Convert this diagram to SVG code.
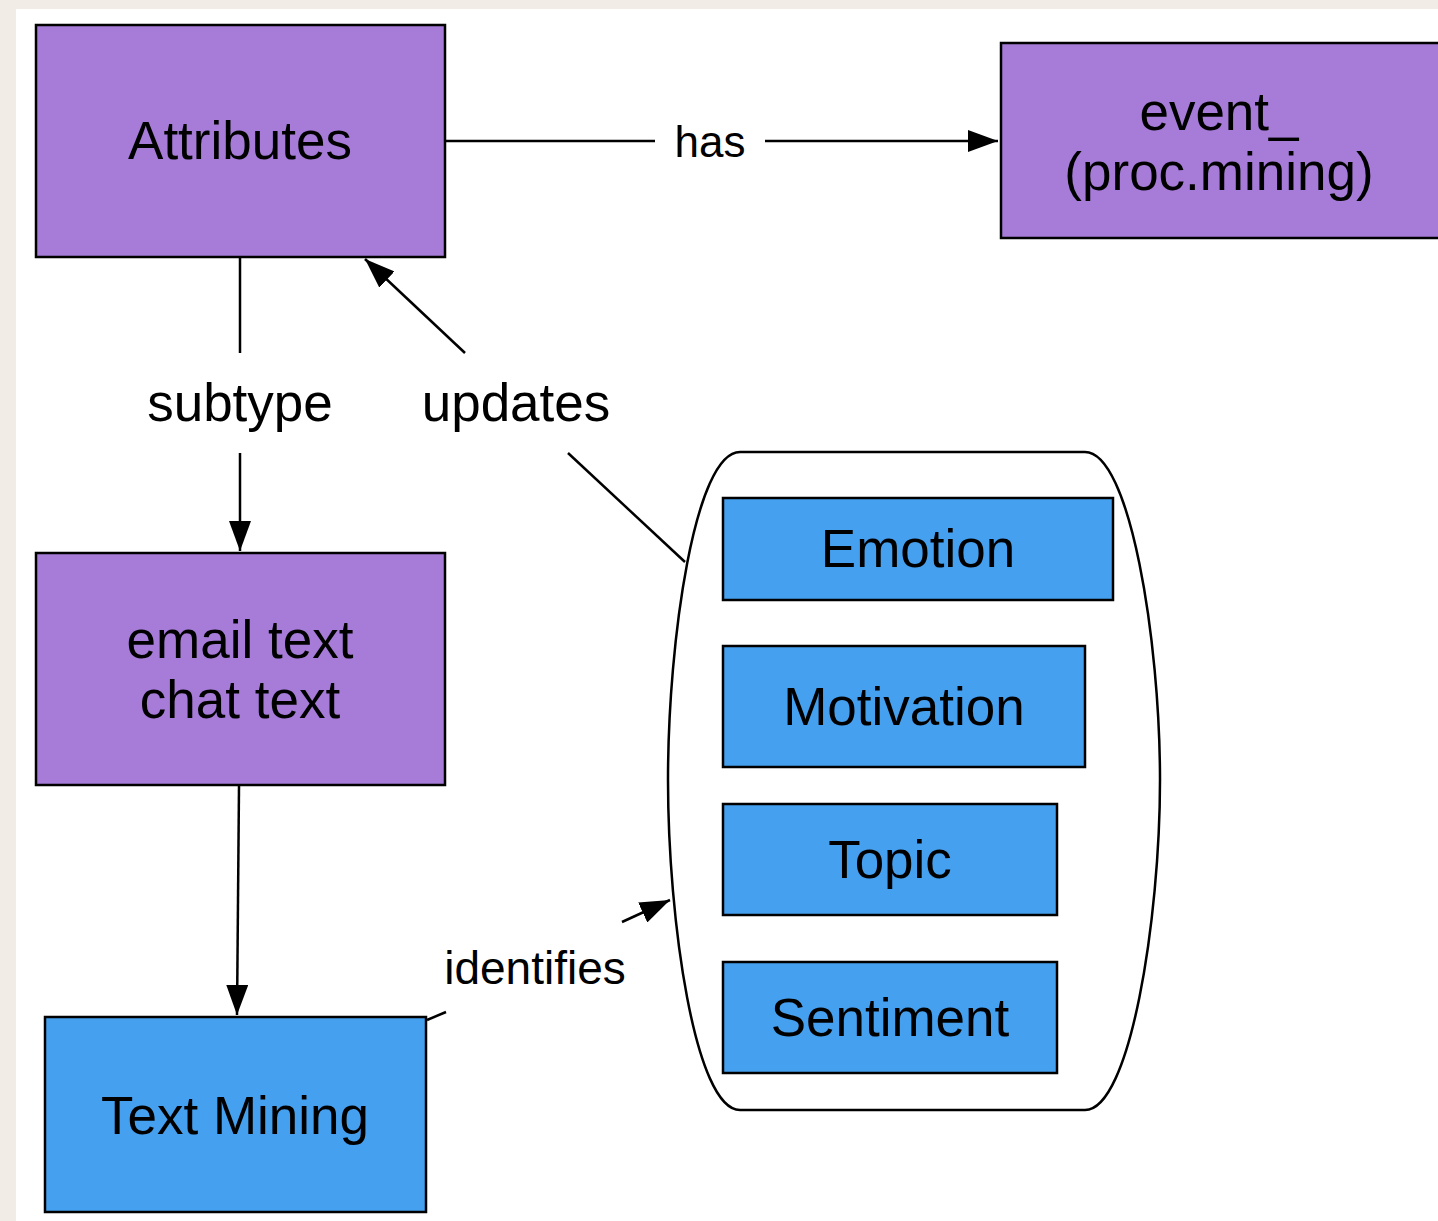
<svg xmlns="http://www.w3.org/2000/svg" width="1438" height="1221" viewBox="0 0 1438 1221">
<style>
.p{fill:#a67cd8;stroke:#000;stroke-width:2.5}
.b{fill:#46a0f0;stroke:#000;stroke-width:2.5}
.t{font-family:"Liberation Sans",Arial,sans-serif;font-size:53px;fill:#000;text-anchor:middle}
.l{font-family:"Liberation Sans",Arial,sans-serif;fill:#000;text-anchor:middle}
.c{fill:none;stroke:#000;stroke-width:2.5}
</style>
<defs>
<marker id="ah" viewBox="0 0 30 22" refX="30" refY="11" markerWidth="30" markerHeight="22" markerUnits="userSpaceOnUse" orient="auto">
<path d="M0,0 L30,11 L0,22 Z" fill="#000"/>
</marker>
</defs>
<rect x="0" y="0" width="1438" height="1221" fill="#f1ede6"/>
<rect x="16" y="9" width="1422" height="1212" fill="#fff"/>
<g id="connectors">
<line class="c" x1="445" y1="141" x2="655" y2="141"/>
<line class="c" x1="765" y1="141" x2="998" y2="141" marker-end="url(#ah)"/>
<line class="c" x1="240" y1="257" x2="240" y2="353"/>
<line class="c" x1="240" y1="453" x2="240" y2="551" marker-end="url(#ah)"/>
<line class="c" x1="685" y1="562" x2="568" y2="453"/>
<line class="c" x1="465" y1="353" x2="365" y2="259" marker-end="url(#ah)"/>
<line class="c" x1="239" y1="786" x2="237" y2="1015" marker-end="url(#ah)"/>
<line class="c" x1="427" y1="1020" x2="446" y2="1012"/>
<line class="c" x1="622" y1="922" x2="670" y2="900" marker-end="url(#ah)"/>
<text class="l" x="710" y="157" font-size="44">has</text>
<text class="l" x="240" y="421" font-size="53">subtype</text>
<text class="l" x="516" y="421" font-size="53">updates</text>
<text class="l" x="535" y="984" font-size="46">identifies</text>
</g>
<g id="attributes"><rect class="p" x="36" y="25" width="409" height="232"/><text class="t" x="240" y="159">Attributes</text></g>
<g id="event"><rect class="p" x="1001" y="43" width="440" height="195"/><text class="t" x="1219" y="130">event_</text><text class="t" x="1219" y="190">(proc.mining)</text></g>
<g id="email"><rect class="p" x="36" y="553" width="409" height="232"/><text class="t" x="240" y="658">email text</text><text class="t" x="240" y="718">chat text</text></g>
<g id="textmining"><rect class="b" x="45" y="1017" width="381" height="195"/><text class="t" x="235" y="1134">Text Mining</text></g>
<g id="group"><path class="c" d="M740,452 H1085 C1130,452 1160,640 1160,780 C1160,920 1130,1110 1085,1110 H740 C695,1110 668,920 668,780 C668,640 695,452 740,452 Z"/></g>
<g id="emotion"><rect class="b" x="723" y="498" width="390" height="102"/><text class="t" x="918" y="567">Emotion</text></g>
<g id="motivation"><rect class="b" x="723" y="646" width="362" height="121"/><text class="t" x="904" y="725">Motivation</text></g>
<g id="topic"><rect class="b" x="723" y="804" width="334" height="111"/><text class="t" x="890" y="878">Topic</text></g>
<g id="sentiment"><rect class="b" x="723" y="962" width="334" height="111"/><text class="t" x="890" y="1036">Sentiment</text></g>
</svg>
